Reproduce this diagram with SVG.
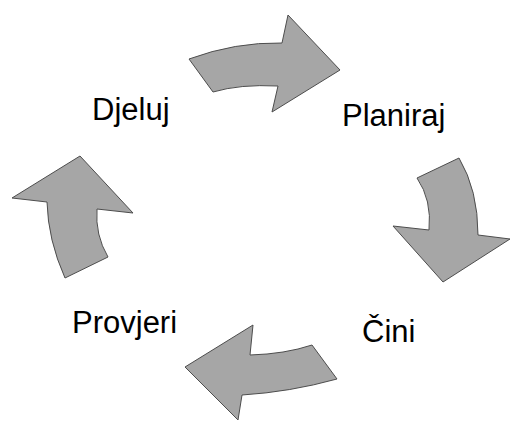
<svg xmlns="http://www.w3.org/2000/svg" width="511" height="421" viewBox="0 0 511 421">
<style>
.arr{fill:#a6a6a6;stroke:#4d4d4d;stroke-width:1;stroke-linejoin:miter}
.lbl{font-family:"Liberation Sans",Arial,sans-serif;font-size:31px;fill:#000}
</style>
<rect width="511" height="421" fill="#fff"/>
<g id="connectors">
<path id="arrow-top" class="arr" d="M189,59 Q235,42 282,43 L288,15 L340,70 L272,112 L278,86 Q240,84 213,92 Z"/>
<path id="arrow-right" class="arr" d="M417,178 L459,158 Q478,190 478,235 L510,239 L443,282 L393,226 L429,230 Q432,200 417,178 Z"/>
<path id="arrow-bottom" class="arr" d="M312,345 L337,379 Q290,392 242,395 L238,420 L185,367 L253,325 L250,355 Q285,354 312,345 Z"/>
<path id="arrow-left" class="arr" d="M65,278 Q48,240 47,202 L12,198 L80,156 L133,213 L97,209 Q95,235 108,257 Z"/>
</g>
<g id="node-djeluj"><text class="lbl" x="92" y="120">Djeluj</text></g>
<g id="node-planiraj"><text class="lbl" x="342" y="126">Planiraj</text></g>
<g id="node-cini"><text class="lbl" x="362" y="342">Čini</text></g>
<g id="node-provjeri"><text class="lbl" x="72" y="333">Provjeri</text></g>
</svg>
